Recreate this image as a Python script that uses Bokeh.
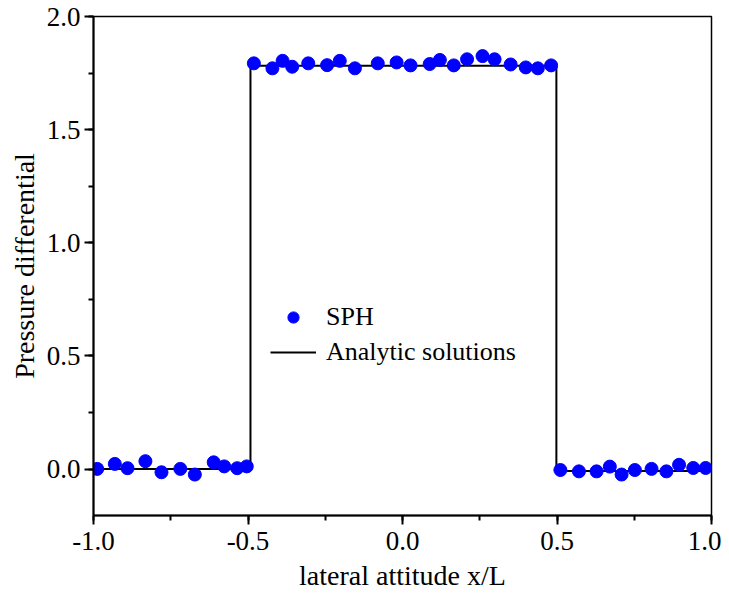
from bokeh.plotting import figure
from bokeh.models import (Range1d, SingleIntervalTicker,
                          NumeralTickFormatter, Legend, LegendItem)
from bokeh.embed import file_html
from bokeh.resources import INLINE

# SPH particle results
sph_x = [-0.988, -0.931, -0.890, -0.832, -0.780, -0.719, -0.672, -0.611, -0.577, -0.535, -0.504,
         -0.481, -0.421, -0.388, -0.357, -0.305, -0.244, -0.203, -0.154, -0.080, -0.019,
         0.026, 0.088, 0.121, 0.166, 0.209, 0.259, 0.298, 0.350, 0.399, 0.438, 0.481,
         0.511, 0.571, 0.628, 0.671, 0.709, 0.752, 0.806, 0.854, 0.895, 0.941, 0.981]
sph_y = [0.001, 0.023, 0.004, 0.035, -0.014, 0.001, -0.024, 0.030, 0.012, 0.004, 0.012,
         1.793, 1.771, 1.804, 1.778, 1.793, 1.785, 1.804, 1.771, 1.793, 1.797,
         1.784, 1.790, 1.808, 1.784, 1.811, 1.825, 1.811, 1.788, 1.775, 1.771, 1.784,
         -0.004, -0.010, -0.010, 0.011, -0.024, -0.004, 0.001, -0.010, 0.019, 0.005, 0.005]

# Analytic solution (step)
ana_x = [-1.0, -0.492, -0.492, 0.498, 0.498, 1.0]
ana_y = [0.0, 0.0, 1.782, 1.782, -0.008, -0.008]

x_range = (-1.0, 1.0)
y_range = (-0.205, 2.0)

FONT = "Liberation Serif"

p = figure(width=721, height=595, output_backend="svg", toolbar_location=None,
           x_range=Range1d(*x_range), y_range=Range1d(*y_range),
           min_border_left=93, min_border_right=10, min_border_top=16, min_border_bottom=80)
p.grid.visible = False
p.background_fill_color = "white"
p.border_fill_color = "white"
p.outline_line_color = "black"
p.outline_line_width = 1.5
p.outline_line_alpha = 1.0

line_r = p.line(ana_x, ana_y, line_color="black", line_width=2)
pts_r = p.scatter(sph_x, sph_y, marker="circle", size=13, fill_color="#0000ff",
                  line_color="#0000ff")

for ax in (p.xaxis[0], p.yaxis[0]):
    ax.ticker = SingleIntervalTicker(interval=0.5, num_minor_ticks=2)
    ax.formatter = NumeralTickFormatter(format="0.0")
    ax.axis_line_width = 2
    ax.axis_line_color = "black"
    ax.major_tick_line_width = 2
    ax.minor_tick_line_width = 2
    ax.major_tick_out = 9
    ax.major_tick_in = 0
    ax.minor_tick_out = 5
    ax.minor_tick_in = 0
    ax.major_label_text_font = FONT
    ax.major_label_text_font_size = "27px"
    ax.major_label_text_color = "black"
    ax.axis_label_text_font = FONT
    ax.axis_label_text_font_size = "28px"
    ax.axis_label_text_font_style = "normal"
    ax.axis_label_text_color = "black"

p.xaxis[0].axis_label = "lateral attitude x/L"
p.yaxis[0].axis_label = "Pressure differential"
p.xaxis[0].major_label_standoff = 7
p.xaxis[0].axis_label_standoff = 7
p.yaxis[0].major_label_standoff = 4
p.yaxis[0].axis_label_standoff = 4

legend = Legend(items=[LegendItem(label="SPH", renderers=[pts_r]),
                       LegendItem(label="Analytic solutions", renderers=[line_r])],
                location=(177, 148), orientation="vertical")
legend.background_fill_alpha = 0
legend.border_line_alpha = 0
legend.padding = 0
legend.margin = 0
legend.spacing = 5
legend.glyph_width = 46
legend.glyph_height = 28
legend.label_height = 28
legend.label_standoff = 10
legend.label_text_font = FONT
legend.label_text_font_size = "26px"
legend.label_text_color = "black"
p.add_layout(legend, "center")

open("out.html", "w").write(file_html(p, INLINE))
